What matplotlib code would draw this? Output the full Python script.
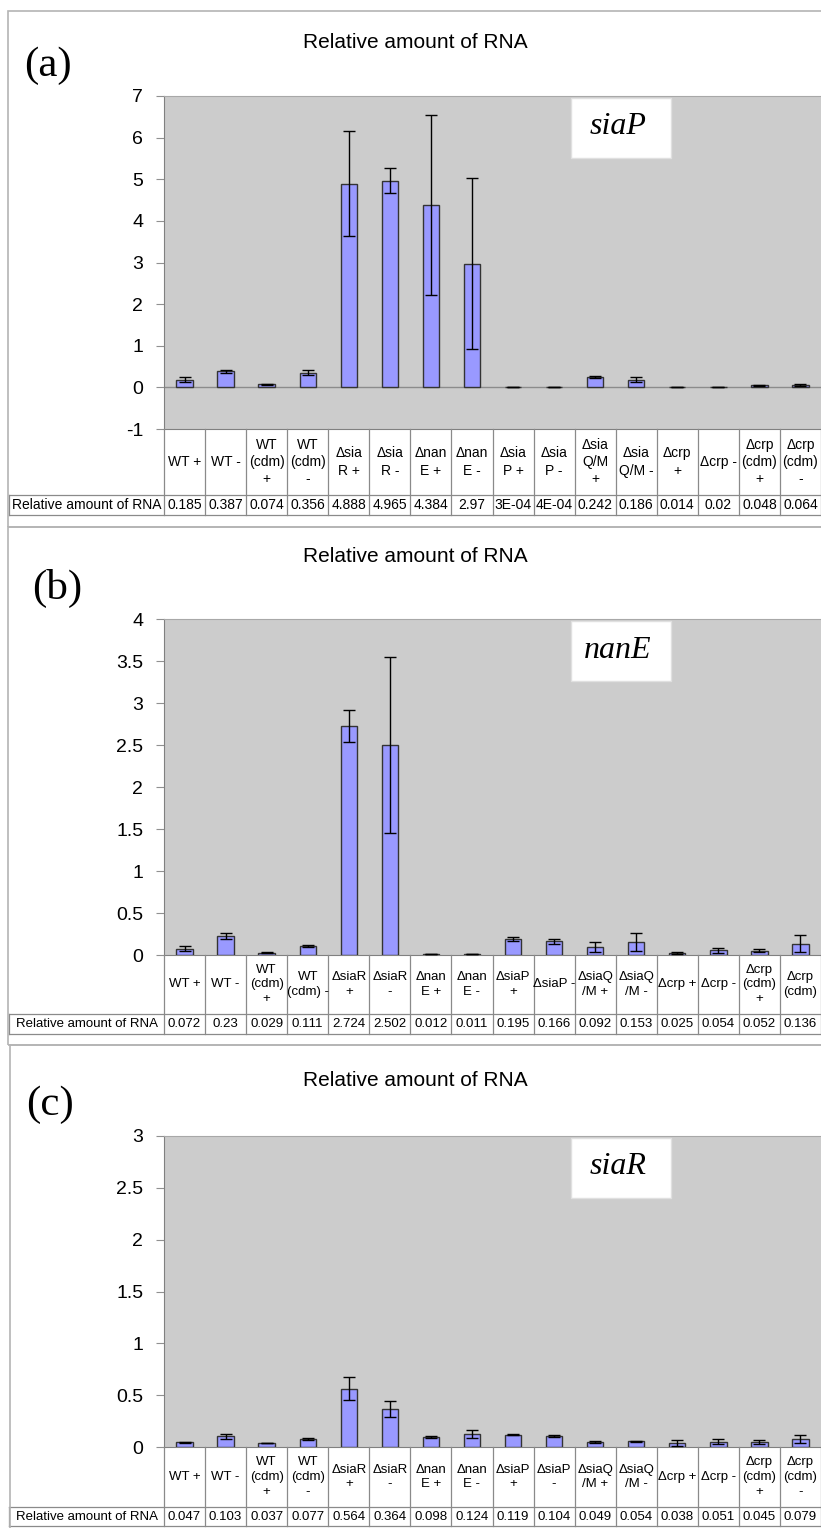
import matplotlib.pyplot as plt
from matplotlib.patches import Rectangle
from matplotlib.ticker import FuncFormatter

# dados dos tres paineis
row_label = "Relative amount of RNA"

cats_a = ["WT +", "WT -", "WT\n(cdm)\n+", "WT\n(cdm)\n-", "Δsia\nR +", "Δsia\nR -",
          "Δnan\nE +", "Δnan\nE -", "Δsia\nP +", "Δsia\nP -", "Δsia\nQ/M\n+", "Δsia\nQ/M -",
          "Δcrp\n+", "Δcrp -", "Δcrp\n(cdm)\n+", "Δcrp\n(cdm)\n-"]
vals_a = ["0.185", "0.387", "0.074", "0.356", "4.888", "4.965", "4.384", "2.97",
          "3E-04", "4E-04", "0.242", "0.186", "0.014", "0.02", "0.048", "0.064"]
errs_a = [0.06, 0.04, 0.01, 0.05, 1.26, 0.30, 2.17, 2.05,
          0.0, 0.0, 0.02, 0.06, 0.0, 0.0, 0.02, 0.02]

cats_b = ["WT +", "WT -", "WT\n(cdm)\n+", "WT\n(cdm) -", "ΔsiaR\n+", "ΔsiaR\n-",
          "Δnan\nE +", "Δnan\nE -", "ΔsiaP\n+", "ΔsiaP -", "ΔsiaQ\n/M +", "ΔsiaQ\n/M -",
          "Δcrp +", "Δcrp -", "Δcrp\n(cdm)\n+", "Δcrp\n(cdm)"]
vals_b = ["0.072", "0.23", "0.029", "0.111", "2.724", "2.502", "0.012", "0.011",
          "0.195", "0.166", "0.092", "0.153", "0.025", "0.054", "0.052", "0.136"]
errs_b = [0.03, 0.035, 0.005, 0.01, 0.19, 1.05, 0.0, 0.0,
          0.025, 0.03, 0.058, 0.105, 0.01, 0.035, 0.02, 0.10]

cats_c = ["WT +", "WT -", "WT\n(cdm)\n+", "WT\n(cdm)\n-", "ΔsiaR\n+", "ΔsiaR\n-",
          "Δnan\nE +", "Δnan\nE -", "ΔsiaP\n+", "ΔsiaP\n-", "ΔsiaQ\n/M +", "ΔsiaQ\n/M -",
          "Δcrp +", "Δcrp -", "Δcrp\n(cdm)\n+", "Δcrp\n(cdm)\n-"]
vals_c = ["0.047", "0.103", "0.037", "0.077", "0.564", "0.364", "0.098", "0.124",
          "0.119", "0.104", "0.049", "0.054", "0.038", "0.051", "0.045", "0.079"]
errs_c = [0.005, 0.025, 0.003, 0.005, 0.11, 0.075, 0.01, 0.04,
          0.003, 0.01, 0.006, 0.007, 0.03, 0.022, 0.02, 0.04]

W, H = 821, 1528
fig = plt.figure(figsize=(W / 100, H / 100), dpi=100)
plt.rcParams['font.family'] = ['Liberation Sans', 'DejaVu Sans']


def box(x0, y0, x1, y1):
    # converte pixels (topo-esquerda) para fracao da figura
    return [x0 / W, 1 - y1 / H, (x1 - x0) / W, (y1 - y0) / H]


def painel(letra, gene, cats, vals, errs, ylim, yticks, lay, tsize):
    left, right = 164, 821
    ncol = len(cats)
    colw = (right - left) / ncol
    heights = [float(v) for v in vals]
    x = list(range(ncol))

    # borda do painel
    fig.add_artist(Rectangle((lay['bx'] / W, 1 - lay['bb'] / H), (W + 20 - lay['bx']) / W,
                             (lay['bb'] - lay['bt']) / H, transform=fig.transFigure,
                             fill=False, edgecolor='#b4b4b4', lw=1.2))

    ax = fig.add_axes(box(left, lay['top'], right, lay['zero']))
    ax.set_facecolor('#cccccc')
    ax.bar(x, heights, width=0.4, color='#9999ff', edgecolor='#333333', linewidth=1,
           yerr=errs, capsize=4, error_kw=dict(ecolor='black', elinewidth=1, capthick=1),
           zorder=3)
    ax.set_xlim(-0.5, ncol - 0.5)
    ax.set_ylim(*ylim)
    ax.set_yticks(yticks)
    ax.yaxis.set_major_formatter(FuncFormatter(lambda v, p: '%g' % v))
    ax.tick_params(axis='y', labelsize=14, length=6, color='#909090', pad=9)
    ax.set_xticks([])
    for s in ['left', 'bottom']:
        ax.spines[s].set_color('#808080')
    ax.spines['top'].set_color('#a8a8a8')
    ax.spines['right'].set_visible(False)
    if ylim[0] < 0:
        ax.axhline(0, color='#8c8c8c', lw=1, zorder=2)

    # titulo e letra do painel
    fig.text(415 / W, 1 - lay['title'] / H, row_label, ha='center', va='center', fontsize=15)
    fig.text(lay['lx'] / W, 1 - lay['ly'] / H, letra, ha='center', va='center',
             fontsize=31, family='Liberation Serif')
    # caixa branca com o nome do gene
    gt = lay['top'] + 2
    fig.add_artist(Rectangle((571 / W, 1 - (gt + 60) / H), 100 / W, 60 / H,
                             transform=fig.transFigure, facecolor='white',
                             edgecolor='#e0e0e0', lw=1, zorder=5))
    fig.text(618 / W, 1 - (gt + 29) / H, gene, ha='center', va='center',
             fontsize=23, family='Liberation Serif', style='italic', zorder=6)

    # tabela abaixo do grafico
    t0, tm, t1 = lay['zero'], lay['mid'], lay['tb']
    tx = fig.add_axes(box(9, t0, right, t1))
    tx.set_xlim(-0.5 - (left - 9) / colw, ncol - 0.5)
    tx.set_ylim(t1, t0)
    tx.axis('off')
    lc = '#8a8a8a'
    for i in range(ncol + 1):
        tx.plot([i - 0.5, i - 0.5], [t0, t1], color=lc, lw=0.9, clip_on=False)
    xl = -0.5 - (left - 9) / colw
    tx.plot([xl, ncol - 0.5], [tm, tm], color=lc, lw=0.9, clip_on=False)
    tx.plot([xl, ncol - 0.5], [t1, t1], color=lc, lw=0.9, clip_on=False)
    tx.plot([xl, xl], [tm, t1], color=lc, lw=0.9, clip_on=False)
    for i in range(ncol):
        tx.text(i, (t0 + tm) / 2, cats[i], ha='center', va='center', fontsize=tsize,
                linespacing=1.3)
        tx.text(i, (tm + t1) / 2, vals[i], ha='center', va='center', fontsize=tsize)
    tx.text((xl - 0.5) / 2, (tm + t1) / 2, row_label, ha='center', va='center',
            fontsize=tsize)


painel("(a)", "siaP", cats_a, vals_a, errs_a, (-1, 7), list(range(-1, 8)),
       dict(bx=8, bt=11, bb=527, top=96, zero=429, mid=495, tb=515,
            title=43, lx=48, ly=66), 10)
painel("(b)", "nanE", cats_b, vals_b, errs_b, (0, 4), [i * 0.5 for i in range(9)],
       dict(bx=8, bt=527, bb=1045, top=619, zero=955, mid=1014, tb=1034,
            title=557, lx=57, ly=588), 9.5)
painel("(c)", "siaR", cats_c, vals_c, errs_c, (0, 3), [i * 0.5 for i in range(7)],
       dict(bx=10, bt=1045, bb=1540, top=1136, zero=1447, mid=1507, tb=1526,
            title=1080, lx=50, ly=1105), 9.5)

plt.savefig('out.png', dpi=100)
